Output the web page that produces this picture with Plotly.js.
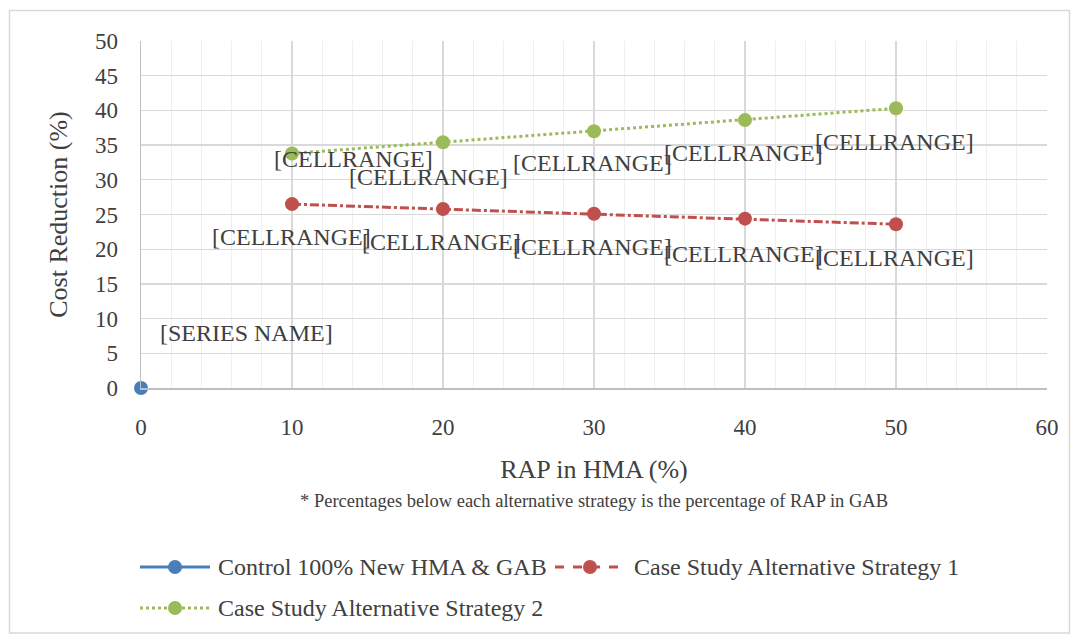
<!DOCTYPE html>
<html>
<head>
<meta charset="utf-8">
<script src="https://cdn.plot.ly/plotly-3.0.1.min.js"></script>
<style>
html,body{margin:0;padding:0;background:#fff;}
#chart{width:1075px;height:634px;}
</style>
</head>
<body>
<div id="chart"></div>
<script>
// ---- data ----
const seriesNames = ["Control 100% New HMA & GAB", "Case Study Alternative Strategy 1", "Case Study Alternative Strategy 2"];
const controlX = [0];
const controlY = [0];
const strategy1X = [10, 20, 30, 40, 50];
const strategy1Y = [26.5, 25.8, 25.1, 24.4, 23.6];
const strategy2X = [10, 20, 30, 40, 50];
const strategy2Y = [33.8, 35.4, 37.0, 38.6, 40.3];
const strategyLabels = ["[CELLRANGE]", "[CELLRANGE]", "[CELLRANGE]", "[CELLRANGE]", "[CELLRANGE]"];
const controlLabel = "[SERIES NAME]";
const xTitle = "RAP in HMA (%)";
const yTitle = "Cost Reduction (%)";
const noteText = "* Percentages below each alternative strategy is the percentage of RAP in GAB";

// ---- styling / label offsets (pixels) ----
const s1Shift = [[-1,-33],[-2,-33],[-2,-33],[-2,-35],[-2,-34]];
const s2Shift = [[61,-6],[-15,-35],[-2,-32],[-2,-33],[-2,-34]];
const ctrlShift = [105,55];

const font = "'Times New Roman', 'Liberation Serif', Times, serif";
const txt = "#404040";
const blue = "#4a7ebb", red = "#c0504d", green = "#9bbb59";

const traces = [
  {x: controlX, y: controlY, mode: "lines+markers", name: seriesNames[0], cliponaxis:false,
   line:{color:blue,width:3}, marker:{color:blue,size:14}},
  {x: strategy1X, y: strategy1Y, mode: "lines+markers", name: seriesNames[1], cliponaxis:false,
   line:{color:red,width:3,dash:"dashdot"}, marker:{color:red,size:14}},
  {x: strategy2X, y: strategy2Y, mode: "lines+markers", name: seriesNames[2], cliponaxis:false,
   line:{color:green,width:3,dash:"dot"}, marker:{color:green,size:14}}
];

const lblSize = 24;
const annotations = [];
strategy1X.forEach((x,i)=>annotations.push({x:x,y:strategy1Y[i],xref:"x",yref:"y",text:strategyLabels[i],
  showarrow:false,xshift:s1Shift[i][0],yshift:s1Shift[i][1],font:{family:font,size:lblSize,color:txt}}));
strategy2X.forEach((x,i)=>annotations.push({x:x,y:strategy2Y[i],xref:"x",yref:"y",text:strategyLabels[i],
  showarrow:false,xshift:s2Shift[i][0],yshift:s2Shift[i][1],font:{family:font,size:lblSize,color:txt}}));
annotations.push({x:controlX[0],y:controlY[0],xref:"x",yref:"y",text:controlLabel,showarrow:false,
  xshift:ctrlShift[0],yshift:ctrlShift[1],font:{family:font,size:lblSize,color:txt}});
annotations.push({x:0.5,y:-0.325,xref:"paper",yref:"paper",text:noteText,showarrow:false,
  xanchor:"center",yanchor:"middle",font:{family:font,size:18.5,color:txt}});

// custom legend (paper coords -> pixels)
const pl=141, pr=1047, pt=41, pb=388;
function px(xp){return (xp-pl)/(pr-pl);}
function py(yp){return (pb-yp)/(pb-pt);}
const legendItems = [
  {x0:140,x1:210,y:567,color:blue,dash:"solid",tx:216,text:seriesNames[0]},
  {x0:555,x1:625,y:567,color:red,dash:"dash",tx:632,text:seriesNames[1]},
  {x0:140,x1:210,y:608,color:green,dash:"dot",tx:216,text:seriesNames[2]}
];
const shapes = [
  {type:"rect",xref:"paper",yref:"paper",x0:px(9.5),x1:px(1069.5),y0:py(633),y1:py(10.5),
   line:{color:"#d9d9d9",width:1.5},layer:"below"}
];
legendItems.forEach(it=>{
  shapes.push({type:"line",xref:"paper",yref:"paper",x0:px(it.x0),x1:px(it.x1),y0:py(it.y),y1:py(it.y),
    line:{color:it.color,width:3,dash:it.dash}});
  const cx=(it.x0+it.x1)/2;
  shapes.push({type:"circle",xref:"paper",yref:"paper",x0:px(cx-7),x1:px(cx+7),y0:py(it.y+7),y1:py(it.y-7),
    fillcolor:it.color,line:{color:it.color,width:0}});
  annotations.push({x:px(it.tx),y:py(it.y),xref:"paper",yref:"paper",text:it.text,showarrow:false,
    xanchor:"left",yanchor:"middle",font:{family:font,size:24,color:txt}});
});

const layout = {
  width:1075, height:634,
  margin:{l:141,r:28,t:41,b:246},
  paper_bgcolor:"#fff", plot_bgcolor:"#fff",
  showlegend:false,
  font:{family:font,color:txt},
  xaxis:{range:[0,60],dtick:10,tick0:0,showgrid:true,gridcolor:"#d9d9d9",gridwidth:1.3,
    minor:{dtick:2,showgrid:true,gridcolor:"#efefef",gridwidth:1.3},
    showline:true,linecolor:"#bfbfbf",linewidth:1.5,zeroline:false,ticks:"",
    tickfont:{family:font,size:23,color:txt},ticklabelstandoff:18,
    title:{text:xTitle,font:{family:font,size:26,color:txt},standoff:20}},
  yaxis:{range:[0,50],dtick:5,tick0:0,showgrid:true,gridcolor:"#d9d9d9",gridwidth:1.3,
    showline:true,linecolor:"#bfbfbf",linewidth:1.5,zeroline:false,ticks:"",
    tickfont:{family:font,size:23,color:txt},ticklabelstandoff:17,
    title:{text:yTitle,font:{family:font,size:26,color:txt},standoff:20}},
  annotations:annotations,
  shapes:shapes
};

Plotly.newPlot("chart", traces, layout, {displayModeBar:false, staticPlot:true});
</script>
</body>
</html>
